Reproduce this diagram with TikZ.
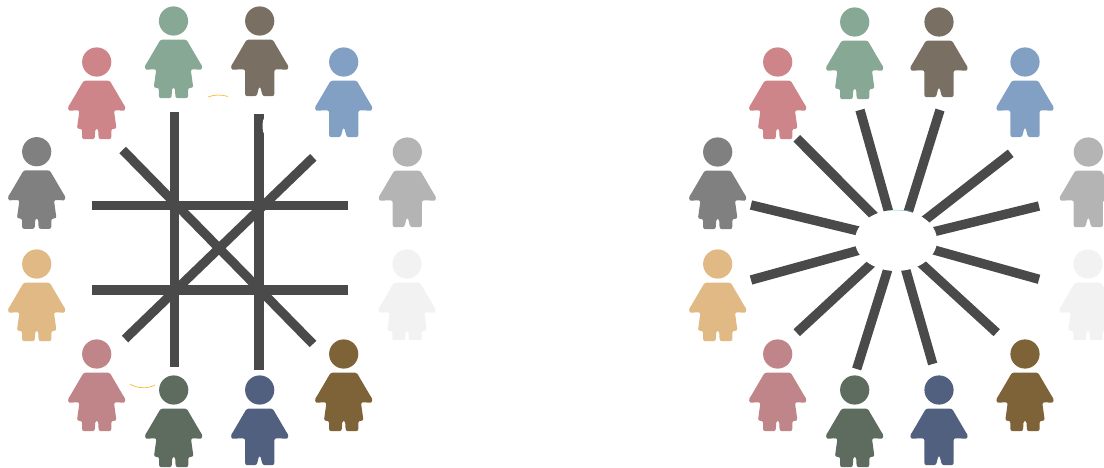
\documentclass[tikz,border=0pt]{standalone}
\usetikzlibrary{shapes.geometric}
\definecolor{cRed}{HTML}{CD8589}
\definecolor{cGreen}{HTML}{88A896}
\definecolor{cTaupe}{HTML}{7A6F63}
\definecolor{cBlue}{HTML}{82A0C4}
\definecolor{cSilver}{HTML}{B3B4B3}
\definecolor{cPale}{HTML}{F2F2F2}
\definecolor{cBrown}{HTML}{7F6338}
\definecolor{cNavy}{HTML}{52607F}
\definecolor{cMoss}{HTML}{5E6C60}
\definecolor{cRose}{HTML}{C08589}
\definecolor{cTan}{HTML}{E0B985}
\definecolor{cGrey}{HTML}{808080}
\definecolor{cBar}{HTML}{4A4A4A}
\tikzset{
  x=1pt,y=-1pt,
  bar/.style={draw=cBar,line width=9.6pt,line cap=butt},
  dbar/.style={draw=cBar,line width=9.2pt,line cap=butt},
  spoke/.style={draw=cBar,line width=9.4pt,line cap=butt,shorten >=-8pt},
  hubnode/.style={ellipse,fill=white,draw=none,minimum width=82pt,minimum height=61pt,inner sep=0pt},
  pics/girl/.style={code={
    \fill[#1] (0,0) circle[radius=14.6];
    \fill[#1,rounded corners=2.2pt] (-13,18.6) -- (13,18.6) -- (27,42.5)
      .. controls (29,45.5) and (28.6,48.6) .. (25,48.6) -- (17.2,48.2)
      -- (19.8,66.8) -- (14.6,66.8) -- (14.6,77.2) -- (2,77.2) -- (1.4,66.8) -- (-1.4,66.8) -- (-2,77.2)
      -- (-14.6,77.2) -- (-14.6,66.8) -- (-19.8,66.8) -- (-17.2,48.2) -- (-25,48.6)
      .. controls (-28.6,48.6) and (-29,45.5) .. (-27,42.5) -- cycle;
  }},
  pics/boy/.style={code={
    \fill[#1] (0,0) circle[radius=14.6];
    \fill[#1,rounded corners=2.2pt] (-13,18.6) -- (13,18.6) -- (27,42.5)
      .. controls (29,45.5) and (28.6,48.6) .. (25,48.6) -- (14.6,48.2)
      -- (14.6,75.2) -- (3,75.2) -- (0.5,65.5) -- (-0.5,65.5) -- (-3,75.2)
      -- (-14.6,75.2) -- (-14.6,48.2) -- (-25,48.6)
      .. controls (-28.6,48.6) and (-29,45.5) .. (-27,42.5) -- cycle;
  }},
}
\begin{document}
\begin{tikzpicture}
\useasboundingbox (0,0) rectangle (1104,468);
% left group
\coordinate (vaT) at (174.3,112); \coordinate (vaB) at (174.3,367);
\coordinate (vbT) at (258.7,114); \coordinate (vbB) at (258.7,369.5);
\coordinate (haL) at (92,205.7); \coordinate (haR) at (347.5,205.7);
\coordinate (hbL) at (92,290); \coordinate (hbR) at (347.5,290);
\coordinate (daS) at (122.7,150); \coordinate (daE) at (313,344);
\coordinate (dbS) at (313.3,157.3); \coordinate (dbE) at (125,339);
\draw[bar] (vaT) -- (vaB);
\draw[bar] (vbT) -- (vbB);
\draw[bar] (haL) -- (haR);
\draw[bar] (hbL) -- (hbR);
\draw[dbar] (daS) -- (daE);
\draw[dbar] (dbS) -- (dbE);
\fill[white] (264.6,126) ellipse[x radius=2,y radius=8];
\draw[orange!70!yellow!80,line width=0.7pt] (208,97) .. controls (214,94.5) and (222,94.5) .. (228,96.5);
\draw[orange!70!yellow!80,line width=0.7pt] (130,384) .. controls (136,388.5) and (148,389) .. (155,385);
\pic (lRed) at (96.7,62) {girl=cRed};
\pic (lGreen) at (173.5,21) {girl=cGreen};
\pic (lTaupe) at (259.7,21) {boy=cTaupe};
\pic (lBlue) at (343.7,62) {boy=cBlue};
\pic (lSilver) at (407.3,152) {boy=cSilver};
\begin{scope}
\clip (370,240) rectangle (440,339.3);
\pic (lPale) at (407,264) {girl=cPale};
\end{scope}
\pic (lBrown) at (343.7,354) {girl=cBrown};
\pic (lNavy) at (259.7,390) {boy=cNavy};
\pic (lMoss) at (173.7,390) {girl=cMoss};
\pic (lRose) at (96.7,354) {girl=cRose};
\pic (lTan) at (36.7,264) {girl=cTan};
\pic (lGrey) at (36.7,151.7) {girl=cGrey};
% right group
\coordinate (hubC) at (896,240.5);
\coordinate (oA) at (796.7,138.3); \coordinate (iA) at (873.3,215);
\coordinate (oB) at (860,110);     \coordinate (iB) at (888.3,210.7);
\coordinate (oC) at (940,110);     \coordinate (iC) at (908.3,211.7);
\coordinate (oD) at (1010.7,153.3);\coordinate (iD) at (925,220);
\coordinate (oE) at (1039,206);    \coordinate (iE) at (934,231.7);
\coordinate (oF) at (1039,279.3);  \coordinate (iF) at (934,250);
\coordinate (oG) at (996.7,332.7); \coordinate (iG) at (921.7,264);
\coordinate (oH) at (932.7,364);   \coordinate (iH) at (906,270.7);
\coordinate (oI) at (856.7,369);   \coordinate (iI) at (887.3,271);
\coordinate (oJ) at (796.7,332.7); \coordinate (iJ) at (870,265);
\coordinate (oK) at (751,280);     \coordinate (iK) at (857.3,250.7);
\coordinate (oL) at (751,205);     \coordinate (iL) at (857.3,230.7);
\foreach \n in {A,B,C,D,E,F,G,H,I,J,K,L}{\draw[spoke] (o\n) -- (i\n);}
\node[hubnode] (hub) at (hubC) {};
\draw[cyan!60!green!60,line width=0.4pt] (888,210.4) .. controls (894,209.9) and (902,210.1) .. (911,211.2);
\pic (rRed) at (777.7,62) {girl=cRed};
\pic (rGreen) at (854.7,22) {girl=cGreen};
\pic (rTaupe) at (939,22) {boy=cTaupe};
\pic (rBlue) at (1025,62) {boy=cBlue};
\pic (rSilver) at (1088.3,152) {boy=cSilver};
\begin{scope}
\clip (1050,240) rectangle (1104,339.3);
\pic (rPale) at (1088,264) {girl=cPale};
\end{scope}
\pic (rBrown) at (1025,354) {girl=cBrown};
\pic (rNavy) at (939,390) {boy=cNavy};
\pic (rMoss) at (854.7,390) {girl=cMoss};
\pic (rRose) at (777.7,354) {girl=cRose};
\pic (rTan) at (717.7,264) {girl=cTan};
\pic (rGrey) at (717.7,152) {girl=cGrey};
\end{tikzpicture}
\end{document}
